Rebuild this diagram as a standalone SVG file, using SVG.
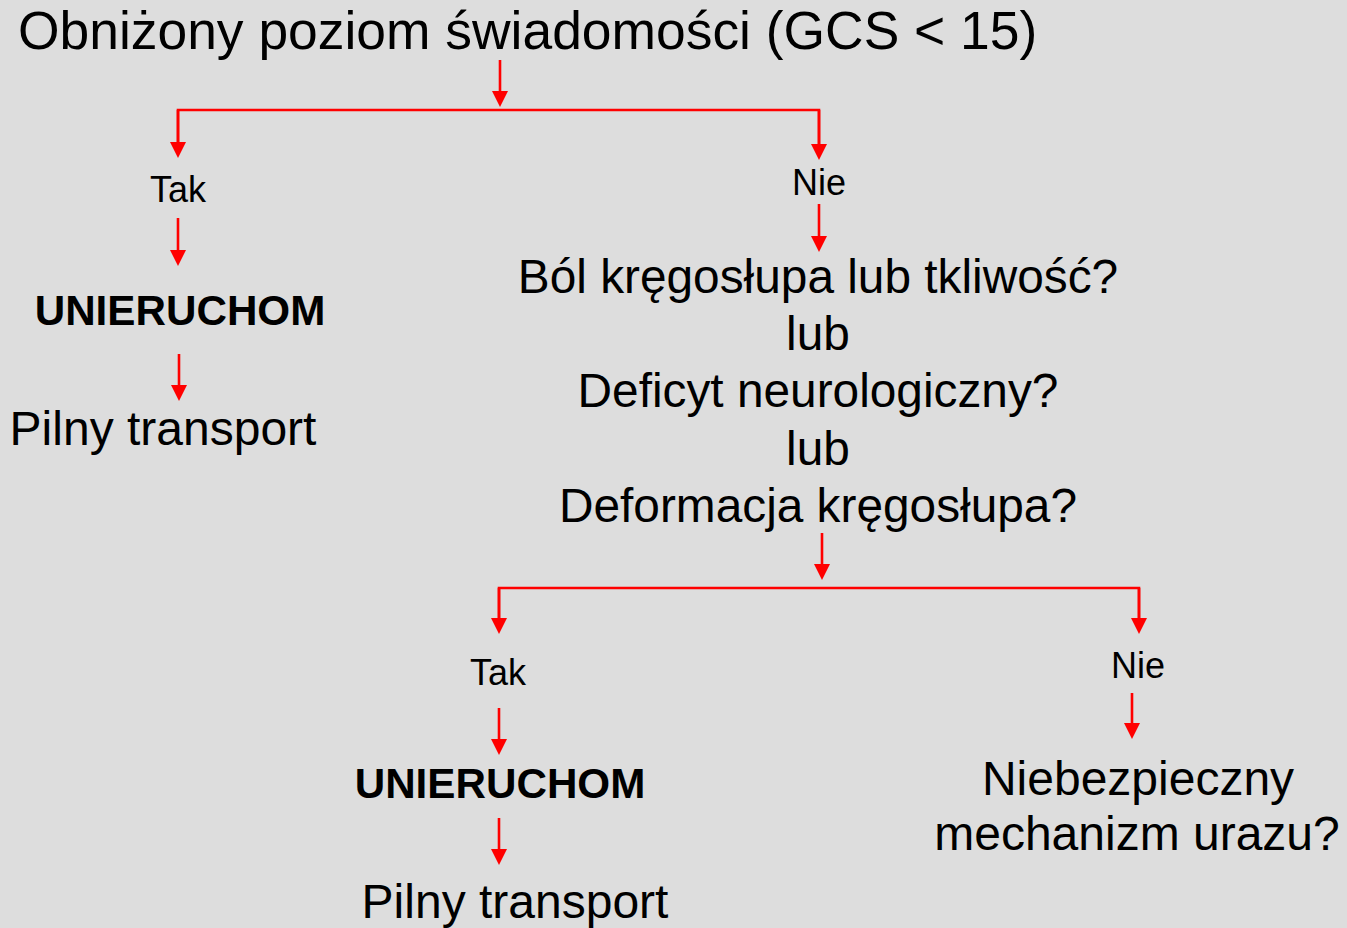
<svg xmlns="http://www.w3.org/2000/svg" width="1347" height="928" viewBox="0 0 1347 928">
<defs>
<style>
text{font-family:"Liberation Sans",Arial,sans-serif;fill:#000;text-anchor:middle}
.t{font-size:53.4px;text-anchor:start}
.big{font-size:48px}
.mid{font-size:47.8px}
.lbl{font-size:36px}
.b{font-size:42.2px;font-weight:bold}
.c{stroke:#ff0000;stroke-width:2.6;fill:none}
.a{marker-end:url(#ah)}
</style>
<marker id="ah" markerUnits="userSpaceOnUse" markerWidth="16" markerHeight="16" refX="0" refY="8" orient="auto" viewBox="0 0 16 16">
<path d="M0,0 L16,8 L0,16 z" fill="#ff0000"/>
</marker>
</defs>
<rect width="1347" height="928" fill="#dddddd"/>
<g id="connectors">
<line class="c a" x1="500" y1="60" x2="500" y2="91"/>
<polyline class="c" points="178,142 178,110 819,110 819,144"/>
<line class="c a" x1="178" y1="110" x2="178" y2="142"/>
<line class="c a" x1="819" y1="110" x2="819" y2="144"/>
<line class="c a" x1="178" y1="218" x2="178" y2="250"/>
<line class="c a" x1="179" y1="354" x2="179" y2="385"/>
<line class="c a" x1="819" y1="204" x2="819" y2="236"/>
<line class="c a" x1="822" y1="533" x2="822" y2="564"/>
<polyline class="c" points="499,618 499,588 1139,588 1139,618"/>
<line class="c a" x1="499" y1="588" x2="499" y2="618"/>
<line class="c a" x1="1139" y1="588" x2="1139" y2="618"/>
<line class="c a" x1="499" y1="708" x2="499" y2="739"/>
<line class="c a" x1="499" y1="818" x2="499" y2="849"/>
<line class="c a" x1="1132" y1="693" x2="1132" y2="723"/>
</g>
<g id="title"><text class="t" x="18" y="49">Obniżony poziom świadomości (GCS &lt; 15)</text></g>
<g id="tak1"><text class="lbl" x="178" y="202">Tak</text></g>
<g id="unieruchom1"><text class="b" x="180" y="325">UNIERUCHOM</text></g>
<g id="transport1"><text class="big" x="163" y="445">Pilny transport</text></g>
<g id="nie1"><text class="lbl" x="819" y="195">Nie</text></g>
<g id="pytanie">
<text class="mid" x="818" y="293">Ból kręgosłupa lub tkliwość?</text>
<text class="mid" x="818" y="350">lub</text>
<text class="mid" x="818" y="407">Deficyt neurologiczny?</text>
<text class="mid" x="818" y="465">lub</text>
<text class="mid" x="818" y="522">Deformacja kręgosłupa?</text>
</g>
<g id="tak2"><text class="lbl" x="498" y="685">Tak</text></g>
<g id="unieruchom2"><text class="b" x="500" y="798">UNIERUCHOM</text></g>
<g id="transport2"><text class="big" x="515" y="918">Pilny transport</text></g>
<g id="nie2"><text class="lbl" x="1138" y="678">Nie</text></g>
<g id="mechanizm">
<text class="big" x="1138" y="795">Niebezpieczny</text>
<text class="big" x="1137" y="850">mechanizm urazu?</text>
</g>
</svg>
